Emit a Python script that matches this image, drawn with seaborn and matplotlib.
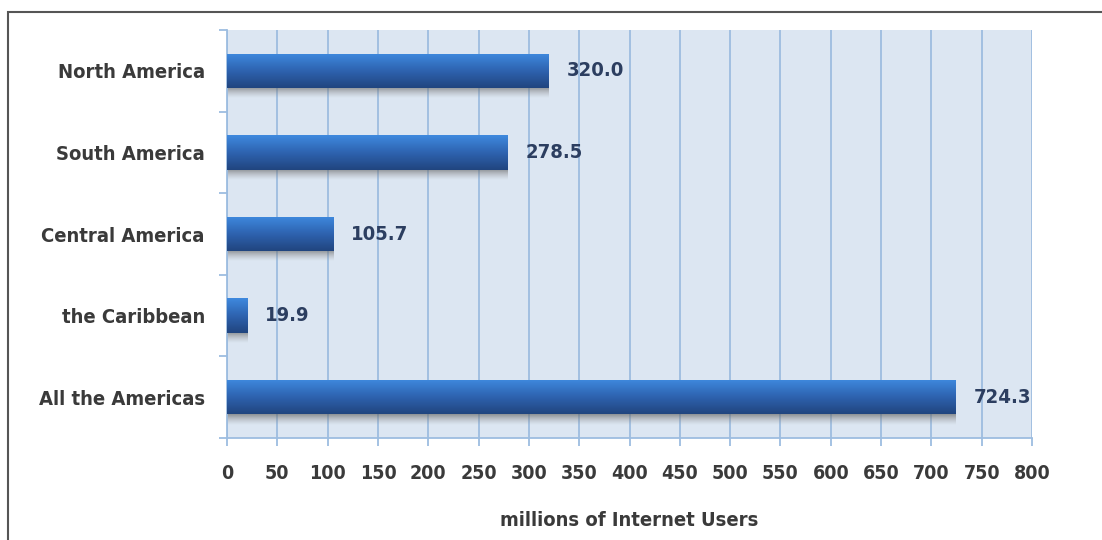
import numpy as np
import pandas as pd
import matplotlib
matplotlib.use("Agg")
import matplotlib.pyplot as plt
import seaborn as sns
from matplotlib.patches import Rectangle
from matplotlib.colors import LinearSegmentedColormap

categories = ["North America", "South America", "Central America", "the Caribbean", "All the Americas"]
values = [320.0, 278.5, 105.7, 19.9, 724.3]
x_ticks = list(range(0, 801, 50))
x_label = "millions of Internet Users"

sns.set_theme(style="white")
FONT = ["DejaVu Sans"]
plt.rcParams["font.family"] = FONT
plt.rcParams["font.stretch"] = "condensed"

fig = plt.figure(figsize=(11.02, 5.40), dpi=100)
ax = fig.add_axes([227/1102, 1-438/540, (1032-227)/1102, (438-30)/540])

df = pd.DataFrame({"region": categories, "users": values})
sns.barplot(data=df, x="users", y="region", orient="h", width=0.42,
            color="#2f66b5", ax=ax, zorder=3)

ax.set_facecolor("#dce6f2")
ax.set_xlim(0, 800)
ax.set_ylim(len(categories)-0.5, -0.5)
ax.set_xticks(x_ticks)
ax.set_xticklabels([str(t) for t in x_ticks])
ax.grid(axis="x", color="#9dbde0", linewidth=1.3, zorder=0)
ax.set_axisbelow(True)
for s in ["top", "right"]:
    ax.spines[s].set_visible(False)
for s in ["left", "bottom"]:
    ax.spines[s].set_color("#9dbde0")
    ax.spines[s].set_linewidth(1.3)

ax.set_yticks(np.arange(len(categories)))
ax.set_yticklabels(categories)
ax.set_yticks(np.arange(-0.5, len(categories), 1.0), minor=True)
ax.tick_params(axis="both", which="both", bottom=True, left=True)
ax.tick_params(axis="y", which="major", length=0, pad=16, labelsize=14.5, labelcolor="#3a3a3a")
ax.tick_params(axis="y", which="minor", length=6, width=1.3, color="#9dbde0", direction="out")
ax.tick_params(axis="x", which="major", length=6, width=1.3, color="#9dbde0", pad=13,
               labelsize=14, labelcolor="#3a3a3a")
for lab in ax.get_yticklabels() + ax.get_xticklabels():
    lab.set_fontweight("bold")
    lab.set_fontstretch("condensed")
ax.set_ylabel("")
ax.set_xlabel(x_label, fontsize=14.5, fontweight="bold", color="#3a3a3a", labelpad=20,
              fontstretch="condensed")

grad = LinearSegmentedColormap.from_list("g", ["#3f89de", "#2e63b0", "#21457f"])
shadow = LinearSegmentedColormap.from_list("s", [(0.38, 0.38, 0.38, 0.65), (0.6, 0.6, 0.6, 0.0)])
gimg = np.linspace(0, 1, 64).reshape(-1, 1)
for p in list(ax.patches):
    x0, y0 = p.get_x(), p.get_y()
    w, h = p.get_width(), p.get_height()
    top, bot = y0, y0 + h
    p.set_facecolor("none")
    p.set_edgecolor("none")
    im = ax.imshow(gimg, cmap=grad, aspect="auto", extent=(x0, x0 + w, bot, top),
                   zorder=3, interpolation="bilinear")
    clip = Rectangle((x0, y0), w, h, transform=ax.transData, facecolor="none", edgecolor="none")
    ax.add_patch(clip)
    im.set_clip_path(clip)
    sh_h = h * 0.3
    ax.imshow(gimg, cmap=shadow, aspect="auto", extent=(x0, x0 + w, bot + sh_h, bot),
              zorder=2, interpolation="bilinear")
ax.set_xlim(0, 800)
ax.set_ylim(len(categories)-0.5, -0.5)

for i, v in enumerate(values):
    ax.annotate(f"{v:.1f}", xy=(v, i), xytext=(13, 0), textcoords="offset points",
                va="center", ha="left", fontsize=14.5, fontweight="bold", color="#2c3e60",
                fontstretch="condensed", zorder=5)

fig.add_artist(Rectangle((8/1102, -0.1), 1.2, 1 - 12/540 + 0.1, transform=fig.transFigure,
                         facecolor="none", edgecolor="#555555", linewidth=1.5))

fig.savefig("out.png", dpi=100)
